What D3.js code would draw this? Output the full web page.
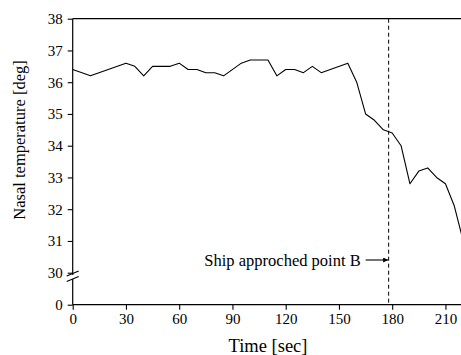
<!DOCTYPE html>
<html>
<head>
<meta charset="utf-8">
<script src="https://cdn.jsdelivr.net/npm/d3@7"></script>
<style>
  body { margin: 0; background: #ffffff; }
  svg { display: block; font-family: "Liberation Serif", "Times New Roman", serif; }
</style>
</head>
<body>
<svg id="chart" width="461" height="355"></svg>
<script>
// time [sec] and nasal temperature [deg]
const timeSec = [0, 10, 30, 35, 40, 45, 55, 60, 65, 70, 75, 80, 85, 95, 100, 110, 115, 120, 125, 130, 135, 140, 155, 160, 165, 170, 175, 180, 185, 190, 195, 200, 205, 210, 215, 220];
const nasalTemp = [36.4, 36.2, 36.6, 36.5, 36.2, 36.5, 36.5, 36.6, 36.4, 36.4, 36.3, 36.3, 36.2, 36.6, 36.7, 36.7, 36.2, 36.4, 36.4, 36.3, 36.5, 36.3, 36.6, 36.0, 35.0, 34.8, 34.5, 34.4, 34.0, 32.8, 33.2, 33.3, 33.0, 32.8, 32.1, 31.0];
const xTicks = [0, 30, 60, 90, 120, 150, 180, 210];
const yTicksUpper = [30, 31, 32, 33, 34, 35, 36, 37, 38];
const yTicksLower = [0];
const eventTime = 178;
const eventLabel = "Ship approched point B";

const svg = d3.select("#chart");
const plotLeft = 72.7, plotRight = 463.2, plotTop = 18.7, breakY = 272.7, plotBottom = 304.7;

const x = d3.scaleLinear().domain([0, 220]).range([plotLeft, plotRight]);
const yUp = d3.scaleLinear().domain([30, 38]).range([breakY, plotTop]);
const yLow = d3.scaleLinear().domain([0, 1]).range([plotBottom, breakY]);

// top frame line
svg.append("line")
  .attr("x1", plotLeft).attr("x2", plotRight)
  .attr("y1", plotTop).attr("y2", plotTop)
  .attr("stroke", "#000").attr("stroke-width", 1.2);

// x axis
const xAxis = svg.append("g").attr("transform", "translate(0," + plotBottom + ")");
xAxis.call(d3.axisBottom(x).tickValues(d3.range(15, 221, 30)).tickSize(3).tickFormat(""));
xAxis.call(d3.axisBottom(x).tickValues(xTicks).tickSize(5).tickPadding(4));
svg.selectAll("g .domain").remove();
svg.append("line").attr("x1", plotLeft).attr("x2", plotRight).attr("y1", plotBottom).attr("y2", plotBottom)
  .attr("stroke", "#000").attr("stroke-width", 1.2);

// y axis upper segment
const yAxisUp = svg.append("g").attr("transform", "translate(" + plotLeft + ",0)");
yAxisUp.call(d3.axisLeft(yUp).tickValues(d3.range(30.5, 38, 1)).tickSize(3).tickFormat(""));
yAxisUp.call(d3.axisLeft(yUp).tickValues(yTicksUpper).tickSize(5).tickPadding(5).tickFormat(d3.format("d")));
// y axis lower segment
const yAxisLow = svg.append("g").attr("transform", "translate(" + plotLeft + ",0)");
yAxisLow.call(d3.axisLeft(yLow).tickValues(yTicksLower).tickSize(5).tickPadding(5).tickFormat(d3.format("d")));
svg.selectAll("g .domain").remove();
svg.append("line").attr("x1", plotLeft).attr("x2", plotLeft).attr("y1", plotTop).attr("y2", plotBottom)
  .attr("stroke", "#000").attr("stroke-width", 1.2);

svg.selectAll(".tick line").attr("stroke", "#000").attr("stroke-width", 1.1);
svg.selectAll(".tick text").attr("fill", "#000").style("font-size", "15px")
  .style("font-family", "'Liberation Serif', serif");

// axis break marks
svg.append("rect").attr("x", plotLeft - 2).attr("y", 275).attr("width", 4).attr("height", 4).attr("fill", "#fff");
[0, 5.5].forEach(function(dy) {
  svg.append("line")
    .attr("x1", plotLeft - 6).attr("y1", 276 + dy)
    .attr("x2", plotLeft + 6).attr("y2", 271 + dy)
    .attr("stroke", "#000").attr("stroke-width", 1.1);
});

// data line
const line = d3.line()
  .x(function(d, i) { return x(timeSec[i]); })
  .y(function(d) { return yUp(d); });
svg.append("path")
  .datum(nasalTemp)
  .attr("d", line)
  .attr("fill", "none")
  .attr("stroke", "#000")
  .attr("stroke-width", 1.1)
  .attr("stroke-linejoin", "round");

// event dashed line
svg.append("line")
  .attr("x1", x(eventTime)).attr("x2", x(eventTime))
  .attr("y1", plotTop).attr("y2", plotBottom)
  .attr("stroke", "#000").attr("stroke-width", 1)
  .attr("stroke-dasharray", "4,3");

// annotation with arrow
svg.append("defs").append("marker")
  .attr("id", "arrow").attr("viewBox", "0 0 10 10")
  .attr("refX", 10).attr("refY", 5)
  .attr("markerWidth", 7).attr("markerHeight", 5)
  .attr("markerUnits", "userSpaceOnUse")
  .attr("orient", "auto")
  .append("path").attr("d", "M0,0 L10,5 L0,10 z").attr("fill", "#000");
svg.append("line")
  .attr("x1", x(eventTime) - 23).attr("x2", x(eventTime) - 0.5)
  .attr("y1", 260).attr("y2", 260)
  .attr("stroke", "#000").attr("stroke-width", 1.1)
  .attr("marker-end", "url(#arrow)");
svg.append("text")
  .attr("x", x(eventTime) - 28).attr("y", 265.5)
  .attr("text-anchor", "end")
  .style("font-size", "16.5px")
  .text(eventLabel);

// axis titles
svg.append("text")
  .attr("x", 268).attr("y", 352)
  .attr("text-anchor", "middle")
  .style("font-size", "18.5px")
  .text("Time [sec]");
svg.append("text")
  .attr("transform", "translate(25,140) rotate(-90)")
  .attr("text-anchor", "middle")
  .style("font-size", "16.5px")
  .text("Nasal temperature [deg]");
</script>
</body>
</html>
